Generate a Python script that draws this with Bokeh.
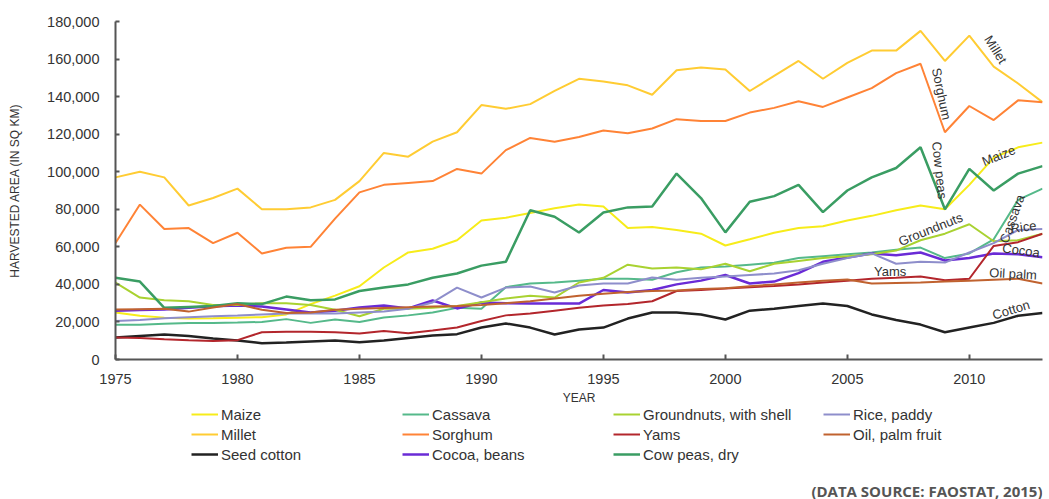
from bokeh.plotting import figure
from bokeh.models import (Legend, LegendItem, NumeralTickFormatter, SingleIntervalTicker,
                          Label, Range1d)
from bokeh.layouts import column
from bokeh.core.properties import value
from bokeh.embed import file_html
from bokeh.resources import INLINE
import math

years = list(range(1975, 2014))

maize = [25000, 23300, 22300, 21900, 22000, 22300, 22500, 24000, 29500, 34000,
         39000, 49000, 57000, 59000, 63500, 74000, 75500, 78000, 80500, 82500,
         81500, 70000, 70500, 69000, 67000, 60700, 64000, 67500, 70000, 71000,
         74000, 76500, 79500, 82000, 80000, 93000, 107500, 113000, 115500]
millet = [97000, 100000, 97000, 82000, 86000, 91000, 80000, 80000, 81000, 85000,
          95000, 110000, 108000, 116000, 121000, 135500, 133500, 136000, 143000, 149500,
          148000, 146000, 141000, 154000, 155500, 154500, 143000, 151000, 159000, 149500,
          158000, 164500, 164500, 175000, 159000, 172500, 156000, 147000, 137000]
sorghum = [62000, 82500, 69500, 70000, 62000, 67500, 56500, 59500, 60000, 75000,
           89000, 93000, 94000, 95000, 101500, 99000, 111500, 118000, 116000, 118500,
           122000, 120500, 123000, 128000, 127000, 127000, 131500, 134000, 137500, 134500,
           139500, 144500, 152500, 157500, 121000, 135000, 127500, 138000, 137000]
cassava = [18500, 18500, 19000, 19500, 19500, 19700, 20000, 21500, 19500, 21300,
           20000, 22400, 23500, 25000, 27500, 27000, 38500, 40500, 41000, 42000,
           43000, 43000, 42500, 46500, 49000, 49500, 50500, 51500, 54000, 55000,
           56000, 57000, 58500, 59600, 54000, 56500, 64000, 85000, 91000]
groundnuts = [41000, 33000, 31500, 31000, 29000, 29000, 30000, 30000, 29000, 26500,
              23000, 27000, 27000, 27500, 28500, 30500, 32500, 34000, 33000, 41000,
              43500, 50500, 48500, 49000, 48000, 51000, 47000, 51000, 52500, 54000,
              55000, 56000, 58000, 63500, 67000, 72000, 63000, 63500, 67000]
rice = [20500, 21000, 22000, 22500, 23000, 23400, 24000, 24500, 24500, 24500,
        25000, 25500, 27000, 30400, 38300, 33000, 38300, 38900, 35700, 39400,
        40500, 40500, 43700, 42500, 43500, 44200, 45000, 45800, 47500, 51000,
        54000, 56500, 51000, 52000, 51600, 57000, 62000, 69000, 69500]
yams = [11700, 11500, 10800, 10200, 9800, 10300, 14500, 14800, 14800, 14500,
        13800, 15200, 14000, 15400, 17000, 20500, 23500, 24500, 26000, 27500,
        28800, 29500, 31000, 36500, 37000, 37800, 38500, 39200, 40000, 41000,
        42000, 43000, 43500, 44200, 42200, 43000, 60500, 62500, 67000]
oil_palm = [26600, 26800, 27000, 25500, 27700, 29500, 26500, 24800, 25000, 26500,
            27000, 27400, 27800, 28200, 28500, 29000, 30000, 31000, 32500, 34000,
            35000, 36000, 36500, 36800, 37500, 38000, 39000, 40000, 41000, 42000,
            42600, 40500, 40800, 41000, 41500, 42000, 42500, 43000, 40500]
seed_cotton = [11700, 12500, 13300, 12500, 11200, 10100, 8700, 9000, 9600, 10100,
               9200, 10100, 11500, 12800, 13500, 17000, 19200, 17000, 13300, 16000,
               17000, 21800, 25000, 25000, 24000, 21300, 26000, 27000, 28500, 29800,
               28500, 24000, 21000, 18600, 14500, 17000, 19500, 23300, 24800]
cocoa = [26000, 26300, 26600, 27500, 28300, 28800, 28200, 26600, 25000, 26000,
         27700, 28800, 27200, 31400, 27200, 30400, 30000, 29800, 29800, 29800,
         37000, 35700, 37000, 40000, 42000, 45000, 40500, 41500, 46000, 52000,
         54300, 56500, 55500, 57000, 52700, 54000, 56500, 56000, 54500]
cow_peas = [43500, 41500, 27500, 28000, 28500, 30000, 29500, 33500, 31500, 32000,
            36500, 38300, 40000, 43500, 45800, 50000, 52000, 79500, 76000, 67600,
            78300, 81000, 81500, 99000, 86000, 67700, 84000, 87000, 93000, 78500,
            90000, 97000, 102000, 113000, 80000, 101500, 90000, 99000, 103000]

# legend columns (each listed top to bottom)
series_columns = [
    [("Maize", maize, "#F7EC1A", 2),
     ("Millet", millet, "#FFCC33", 2),
     ("Seed cotton", seed_cotton, "#222222", 2.5)],
    [("Cassava", cassava, "#55B98A", 2),
     ("Sorghum", sorghum, "#FF8336", 2),
     ("Cocoa, beans", cocoa, "#6A2BD6", 2.5)],
    [("Groundnuts, with shell", groundnuts, "#A9D231", 2),
     ("Yams", yams, "#B3262C", 2),
     ("Cow peas, dry", cow_peas, "#3A9D63", 2.5)],
    [("Rice, paddy", rice, "#8E8ECB", 2),
     ("Oil, palm fruit", oil_palm, "#C0622F", 2)],
]

# inline labels: text, series, anchor year, x_offset px, y_offset px, angle deg
inline_labels = [
    ("Millet", millet, 2011, 2, -17, -58),
    ("Sorghum", sorghum, 2008, 21, 30, -78),
    ("Cow peas", cow_peas, 2008, 19, 23, -84),
    ("Maize", maize, 2011, 5, -2, 22),
    ("Cassava", cassava, 2012, -6, 19, 70),
    ("Rice", rice, 2013, -19, -2, 8),
    ("Cocoa", cocoa, 2012, 3, -4, -8),
    ("Groundnuts", groundnuts, 2008, 10, -11, 22),
    ("Yams", yams, 2007, -6, -6, 0),
    ("Oil palm", oil_palm, 2012, -5, -5, -3),
    ("Cotton", seed_cotton, 2012, -7, -6, 17),
]

FONT = "Liberation Sans"
TXT = "#333333"
W = 1044
LEFT = 115
H_MAIN = 407
H_LEG = 92

p = figure(width=W, height=H_MAIN, output_backend="svg", toolbar_location=None,
           x_range=Range1d(1975, 2013), y_range=Range1d(0, 180000),
           min_border_left=LEFT, min_border_right=2, min_border_top=21, min_border_bottom=48)
p.outline_line_color = None
p.xgrid.grid_line_color = None
p.ygrid.grid_line_color = None

for col in series_columns:
    for name, vals, color, w in col:
        p.line(years, vals, line_color=color, line_width=w)

tx, ty, tt, ta, txo, tyo = [], [], [], [], [], []
for text, vals, yr, dx, dy, ang in inline_labels:
    tx.append(yr)
    ty.append(vals[years.index(yr)])
    tt.append(text)
    ta.append(math.radians(ang))
    txo.append(dx)
    tyo.append(dy)
p.text(x=tx, y=ty, text=tt, angle=ta, x_offset=txo, y_offset=tyo,
       text_font=value(FONT), text_font_size="13px", text_color=TXT,
       text_align="center", text_baseline="middle")

for ax in (p.xaxis[0], p.yaxis[0]):
    ax.axis_line_color = "#555555"
    ax.axis_line_width = 2
    ax.major_tick_line_color = "#555555"
    ax.major_tick_line_width = 2
    ax.major_tick_out = 0
    ax.minor_tick_line_color = None
    ax.major_label_text_font = FONT
    ax.major_label_text_font_size = "14.5px"
    ax.major_label_text_color = TXT
    ax.axis_label_text_font = FONT
    ax.axis_label_text_font_size = "12px"
    ax.axis_label_text_font_style = "normal"
    ax.axis_label_text_color = TXT

p.xaxis.ticker = SingleIntervalTicker(interval=5)
p.xaxis.major_tick_in = 5
p.xaxis.major_label_standoff = 10
p.xaxis.axis_label = "YEAR"
p.xaxis.axis_label_standoff = 4

p.yaxis.ticker = SingleIntervalTicker(interval=20000)
p.yaxis.formatter = NumeralTickFormatter(format="0,0")
p.yaxis.major_tick_in = 4
p.yaxis.major_label_standoff = 12
p.yaxis.axis_label = "HARVESTED AREA (IN SQ KM)"
p.yaxis.axis_label_standoff = 22

# legend panel below the chart (its frame is aligned with the chart's frame)
lg = figure(width=W, height=H_LEG, output_backend="svg", toolbar_location=None,
            x_range=Range1d(0, 1), y_range=Range1d(0, 1),
            x_axis_location=None, y_axis_location=None,
            min_border_left=0, min_border_right=0, min_border_top=0, min_border_bottom=0)
lg.outline_line_color = None
lg.xgrid.grid_line_color = None
lg.ygrid.grid_line_color = None

col_x = [191, 402, 613, 823]
GH, SP = 18, 2
for cx, col in zip(col_x, series_columns):
    items = []
    for name, vals, color, w in col:
        r = lg.line(years, vals, line_color=color, line_width=w)
        items.append(LegendItem(label=name, renderers=[r]))
    n = len(col)
    h = n * GH + (n - 1) * SP
    leg = Legend(items=items, orientation="vertical", location=(cx - LEFT, H_LEG - h + 2),
                 glyph_width=27, glyph_height=GH, label_height=GH, label_width=20,
                 label_standoff=3, spacing=SP, padding=0, margin=0,
                 border_line_color=None, background_fill_alpha=0,
                 label_text_font=FONT, label_text_font_size="15px",
                 label_text_color=TXT)
    lg.add_layout(leg, "center")

src = Label(x=1.0, y=9 / H_LEG, x_units="data", y_units="data",
            text="(DATA SOURCE: FAOSTAT, 2015)", text_align="right",
            text_baseline="middle", text_font="Open Sans",
            text_font_style="bold", text_font_size="15px", text_color="#555555")
lg.add_layout(src)

open("out.html", "w").write(file_html(column(p, lg, spacing=0), INLINE))
